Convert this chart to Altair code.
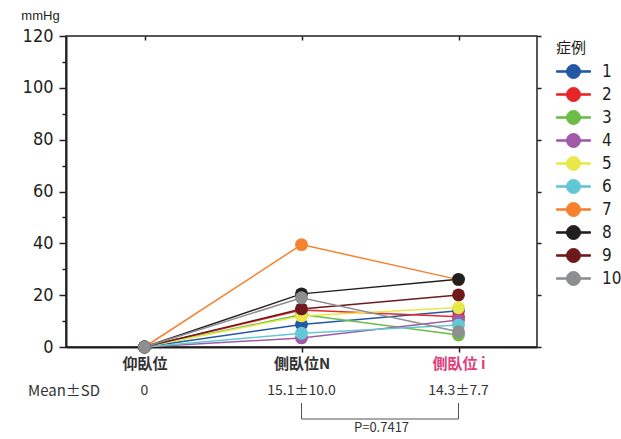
import altair as alt
import pandas as pd

# Pressure (mmHg) per case in three body positions
cases = ["1", "2", "3", "4", "5", "6", "7", "8", "9", "10"]
positions = ["仰臥位", "側臥位N", "側臥位 i"]
supine = [0, 0, 0, 0, 0, 0, 0, 0, 0, 0]
lateral_n = [8.7, 14.3, 12.5, 3.5, 12.0, 5.3, 39.5, 20.5, 14.7, 19.0]
lateral_i = [14.0, 11.7, 4.6, 10.4, 15.2, 8.5, 26.0, 26.1, 20.1, 5.9]
case_colors = ["#2457a6", "#e8262a", "#6bbd45", "#a25aa8", "#e8e84a",
               "#62c8d5", "#f5822f", "#231f20", "#6e1a1c", "#8d8e90"]

mean_sd = ["0", "15.1±10.0", "14.3±7.7"]
p_value = "P=0.7417"

rows = []
for k, c in enumerate(cases):
    for pos, vals in zip(positions, [supine, lateral_n, lateral_i]):
        rows.append({"case": c, "position": pos, "mmHg": vals[k], "seq": k})
df = pd.DataFrame(rows)

stats = pd.DataFrame({"position": positions, "label": mean_sd})
bracket = pd.DataFrame({"a": [positions[1]], "b": [positions[2]], "label": [p_value]})
bracket_legs = pd.DataFrame({"position": positions[1:]})

INK = "#231f20"
NUM_FONT = "DejaVu Sans Condensed, Liberation Sans, sans-serif"
JP_FONT = "Noto Sans CJK JP"

x_scale = alt.Scale(type="point", domain=positions, padding=0.5)
y_scale = alt.Scale(domain=[0, 120], nice=False, zero=True)
color_scale = alt.Scale(domain=cases, range=case_colors)

left_axis = alt.Axis(
    values=list(range(0, 121, 10)),
    labelExpr="datum.value % 20 == 0 ? datum.label : ''",
    tickSize={"condition": {"test": "datum.value % 20 == 0", "value": 7}, "value": 4},
    grid=False, domainWidth=2, domainColor=INK, tickColor=INK, tickWidth=1.5,
    labelFont=NUM_FONT, labelFontSize=18, labelColor=INK, labelPadding=6,
    title="mmHg", titleAngle=0, titleX=-26, titleY=-14, titleFont="Liberation Sans",
    titleFontSize=13, titleFontWeight="normal", titleColor=INK,
    titleAlign="center", titleBaseline="bottom",
)
right_axis = alt.Axis(
    orient="right", values=list(range(0, 121, 20)), labels=False, grid=False,
    domain=False, tickSize=4, tickWidth=1.5, tickColor=INK, title=None,
)
bottom_axis = alt.Axis(
    orient="bottom", tickSize=5, tickWidth=1.5, tickColor=INK, domainWidth=2,
    domainColor=INK, labelAngle=0, labelFont=JP_FONT, labelFontWeight="bold",
    labelFontSize=15, labelPadding=4,
    labelColor={"condition": {"test": "datum.value == '側臥位 i'", "value": "#e0407a"},
                "value": "#333333"},
    title=None, grid=False,
)
top_axis = alt.Axis(
    orient="top", labels=False, tickSize=4, tickWidth=1.5, tickColor=INK,
    domain=False, offset=-4, title=None, grid=False,
)

# Legend symbol: a thin bar (the line) with a dot on it
legend_path = ("M-1.42,-0.06L1.42,-0.06L1.42,0.06L-1.42,0.06Z"
               "M-0.58,0A0.58,0.58,0,1,1,0.58,0A0.58,0.58,0,1,1,-0.58,0Z")

case_legend = alt.Legend(
    title="症例", orient="right", offset=9, padding=5,
    titleFont=JP_FONT, titleFontSize=15, titleFontWeight="normal", titleColor=INK,
    titlePadding=3,
    symbolType=legend_path, symbolSize=576, symbolStrokeWidth=1,
    symbolOpacity=1, symbolOffset=5,
    labelFont=NUM_FONT, labelFontSize=17, labelColor=INK,
    labelOffset=16, rowPadding=1,
)

base = alt.Chart(df)

lines = base.mark_line(strokeWidth=1.5).encode(
    x=alt.X("position:N", sort=positions, scale=x_scale, axis=bottom_axis),
    y=alt.Y("mmHg:Q", scale=y_scale, axis=left_axis),
    color=alt.Color("case:N", scale=color_scale, legend=case_legend),
    detail="case:N",
)

points = base.mark_circle(size=165, opacity=1).encode(
    x=alt.X("position:N", sort=positions, scale=x_scale, axis=top_axis),
    y=alt.Y("mmHg:Q", scale=y_scale, axis=right_axis),
    color=alt.Color("case:N", scale=color_scale, legend=case_legend),
    order=alt.Order("seq:Q"),
)

stat_text = alt.Chart(stats).mark_text(
    font=JP_FONT, fontSize=14, color="#333333", baseline="middle"
).encode(
    x=alt.X("position:N", sort=positions, scale=x_scale, axis=None),
    y=alt.value(355),
    text="label:N",
)

stat_head = alt.Chart(stats.head(1)).mark_text(
    font=JP_FONT, fontSize=15, color="#333333", baseline="middle", align="center"
).encode(
    x=alt.value(-2), y=alt.value(355), text=alt.value("Mean±SD"),
)

bracket_bar = alt.Chart(bracket).mark_rule(color="#555555", strokeWidth=1).encode(
    x=alt.X("a:N", scale=x_scale, axis=None),
    x2="b:N",
    y=alt.value(383),
)
bracket_side = alt.Chart(bracket_legs).mark_rule(color="#555555", strokeWidth=1).encode(
    x=alt.X("position:N", scale=x_scale, axis=None),
    y=alt.value(367), y2=alt.value(383),
)
p_text = alt.Chart(bracket).mark_text(
    font=JP_FONT, fontSize=13, color="#333333", baseline="middle", dx=80
).encode(
    x=alt.X("a:N", scale=x_scale, axis=None),
    y=alt.value(392),
    text="label:N",
)

chart = alt.layer(
    lines, points, stat_text, stat_head, bracket_bar, bracket_side, p_text
).resolve_axis(x="independent", y="independent").properties(
    width=471, height=311,
    autosize=alt.AutoSizeParams(type="none"),
    padding={"left": 66, "top": 36, "right": 84, "bottom": 92},
    background="white",
).configure_view(stroke=INK, strokeWidth=1.5)

chart.save("out.html", embed_options={"renderer": "svg", "actions": False})
